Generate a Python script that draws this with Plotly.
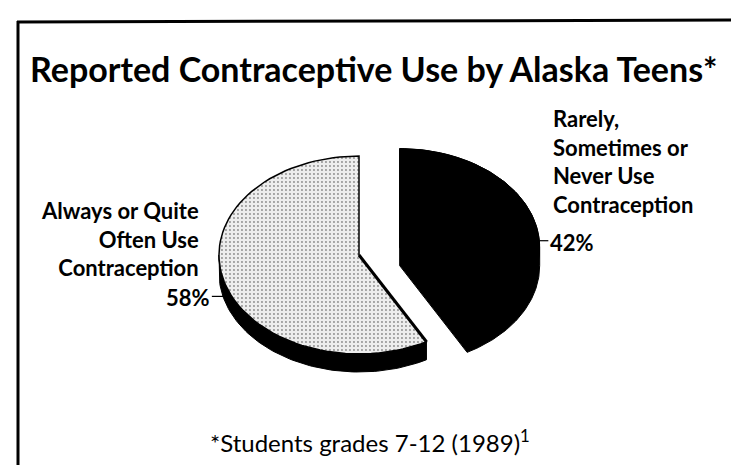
import numpy as np
import plotly.graph_objects as go

# ---- data ----
categories = ["Rarely, Sometimes or Never Use Contraception",
              "Always or Quite Often Use Contraception"]
shares = [42, 58]
label_lines = [["Rarely,", "Sometimes or", "Never Use", "Contraception"],
               ["Always or Quite", "Often Use", "Contraception"]]
title_text = "Reported Contraceptive Use by Alaska Teens*"
footnote_text = "*Students grades 7-12 (1989)<sup>1</sup>"

# ---- geometry / style (pixel space) ----
W, H = 739, 465
CX, CY = 351, 247          # centre of the unpulled pie top face
RX, RY = 140, 99           # ellipse radii of the tilted pie
DEPTH = 18                 # thickness of the pie
PULL = 0.30                # explode fraction of first slice
FONT = "Lato"


def pt(theta, cx, cy, r=1.0, dy=0.0):
    t = np.radians(theta)
    return cx + r * RX * np.sin(t), cy - r * RY * np.cos(t) + dy


def arc(a0, a1, cx, cy, dy=0.0, n=80):
    th = np.linspace(a0, a1, n)
    xs, ys = pt(th, cx, cy, dy=dy)
    return list(xs), list(ys)


total = float(sum(shares))
spans = []
s = 0.0
for v in shares:
    e = s + 360.0 * v / total
    spans.append((s, e))
    s = e

fig = go.Figure()

# ---- slice 1: black, pulled out ----
a0, a1 = spans[0]
mid = (a0 + a1) / 2
bcx, bcy = pt(mid, CX, CY, r=PULL)
xs, ys = [bcx], [bcy + DEPTH]
ax_, ay_ = arc(a0, 90, bcx, bcy)
xs += ax_; ys += ay_
ax_, ay_ = arc(90, a1, bcx, bcy, dy=DEPTH)
xs += ax_; ys += ay_
xs.append(bcx); ys.append(bcy + DEPTH)
fig.add_trace(go.Scatter(x=xs, y=ys, fill="toself", mode="lines",
                         fillcolor="black", line=dict(color="black", width=1),
                         hoverinfo="skip", showlegend=False))
ax_, ay_ = arc(a0, a1, bcx, bcy)
fig.add_trace(go.Scatter(x=[bcx] + ax_ + [bcx], y=[bcy] + ay_ + [bcy],
                         fill="toself", mode="lines", fillcolor="black",
                         line=dict(color="black", width=1),
                         hoverinfo="skip", showlegend=False))

# ---- slice 2: stippled grey ----
b0, b1 = spans[1]
top_x, top_y = arc(b0, 270, CX, CY)
bot_x, bot_y = arc(270, b0, CX, CY, dy=DEPTH)
fig.add_trace(go.Scatter(x=top_x + bot_x + [top_x[0]], y=top_y + bot_y + [top_y[0]],
                         fill="toself", mode="lines", fillcolor="black",
                         line=dict(color="black", width=1),
                         hoverinfo="skip", showlegend=False))
ax_, ay_ = arc(b0, b1, CX, CY)
fig.add_trace(go.Scatter(x=[CX] + ax_ + [CX], y=[CY] + ay_ + [CY],
                         fill="toself", mode="lines", fillcolor="#ebebeb",
                         fillpattern=dict(shape=".", size=4, solidity=0.18,
                                          fgcolor="#8c8c8c", bgcolor="#ededed",
                                          fillmode="replace"),
                         line=dict(color="black", width=1.5),
                         hoverinfo="skip", showlegend=False))
ex, ey = pt(b0, CX, CY)
fig.add_trace(go.Scatter(x=[CX, ex], y=[CY, ey], mode="lines",
                         line=dict(color="black", width=3),
                         hoverinfo="skip", showlegend=False))

# ---- leader lines ----
lx, ly = pt(86, bcx, bcy)
fig.add_trace(go.Scatter(x=[lx, lx + 9], y=[ly, ly], mode="lines",
                         line=dict(color="black", width=1.2),
                         hoverinfo="skip", showlegend=False))
gx, gy = pt(252, CX, CY, dy=DEPTH * 0.6)
fig.add_trace(go.Scatter(x=[gx - 14, gx], y=[gy, gy], mode="lines",
                         line=dict(color="black", width=1.2),
                         hoverinfo="skip", showlegend=False))

annotations = [
    dict(x=365, y=60, text="<b>" + title_text + "</b>", showarrow=False,
         xanchor="center", yanchor="middle",
         font=dict(family=FONT, size=34, color="black")),
    dict(x=543, y=153, text="<b>" + "<br>".join(label_lines[0]) + "</b>",
         showarrow=False, xanchor="left", yanchor="middle", align="left",
         font=dict(family=FONT, size=22, color="black")),
    dict(x=lx + 9, y=ly + 2, text="<b>%d%%</b>" % shares[0], showarrow=False,
         xanchor="left", yanchor="middle",
         font=dict(family=FONT, size=22, color="black")),
    dict(x=193, y=231, text="<b>" + "<br>".join(label_lines[1]) + "</b>",
         showarrow=False, xanchor="right", yanchor="middle", align="right",
         font=dict(family=FONT, size=22, color="black")),
    dict(x=gx - 14, y=gy + 1, text="<b>%d%%</b>" % shares[1], showarrow=False,
         xanchor="right", yanchor="middle",
         font=dict(family=FONT, size=22, color="black")),
    dict(x=362, y=433, text=footnote_text, showarrow=False,
         xanchor="center", yanchor="middle",
         font=dict(family=FONT, size=24, color="black")),
]

shapes = [
    dict(type="line", xref="x", yref="y", x0=9, y0=14, x1=739, y1=12,
         line=dict(color="black", width=3)),
    dict(type="line", xref="x", yref="y", x0=10, y0=13, x1=10, y1=465,
         line=dict(color="black", width=3)),
]

fig.update_layout(
    width=W, height=H, margin=dict(l=0, r=0, t=0, b=0),
    paper_bgcolor="white", plot_bgcolor="white",
    xaxis=dict(range=[0, W], visible=False, fixedrange=True),
    yaxis=dict(range=[H, 0], visible=False, fixedrange=True),
    annotations=annotations, shapes=shapes, showlegend=False,
)

fig.write_html("out.html")
